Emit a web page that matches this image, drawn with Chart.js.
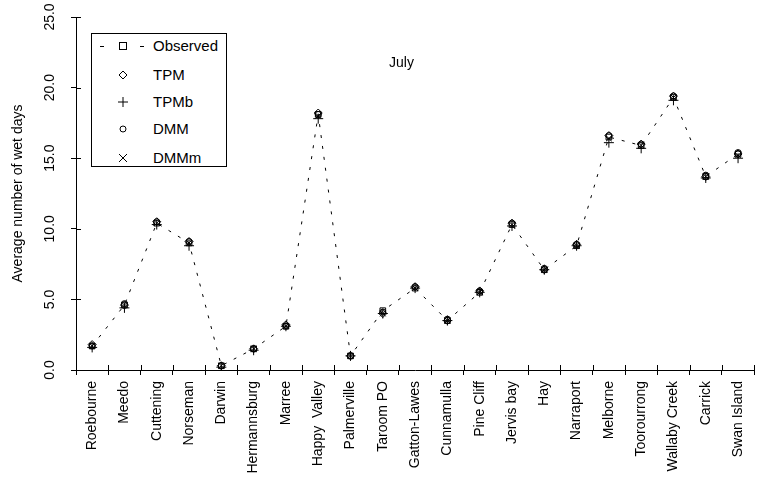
<!DOCTYPE html>
<html>
<head>
<meta charset="utf-8">
<script src="https://cdn.jsdelivr.net/npm/chart.js@4.4.1/dist/chart.umd.min.js"></script>
<style>
  html, body { margin: 0; padding: 0; background: #fff; }
  #wrap { position: relative; width: 761px; height: 500px; font-family: "Liberation Sans", Arial, sans-serif; }
  #cv { position: absolute; left: 0; top: 0; }
  #legend { position: absolute; left: 91px; top: 33px; width: 136px; height: 134px; border: 1px solid #000; background: #fff; box-sizing: border-box; }
  .lg-row { position: absolute; left: 0; height: 20px; width: 100%; font-size: 15px; color: #000; }
  .lg-row svg { position: absolute; left: 0; top: 0; }
  .lg-row span { position: absolute; left: 61px; top: 1px; }
  #month { position: absolute; left: 389px; top: 54px; font-size: 14px; color: #000; }
</style>
</head>
<body>
<div id="wrap">
  <canvas id="cv" width="761" height="500"></canvas>
  <div id="legend"></div>
  <div id="month">July</div>
</div>
<script>
// stations along the x axis
const stations = ['Roebourne', 'Meedo', 'Cuttening', 'Norseman', 'Darwin', 'Hermannsburg', 'Marree',
  'Happy  Valley', 'Palmerville', 'Taroom PO', 'Gatton-Lawes', 'Cunnamulla', 'Pine Cliff', 'Jervis bay',
  'Hay', 'Narraport', 'Melborne', 'Toorourrong', 'Wallaby Creek', 'Carrick', 'Swan Island'];

// average number of wet days in July
const observed = [1.7, 4.6, 10.4, 9.0, 0.3, 1.5, 3.1, 18.1, 1.0, 4.2, 5.8, 3.5, 5.5, 10.3, 7.1, 8.8, 16.5, 15.9, 19.3, 13.7, 15.3];
const tpm      = [1.8, 4.6, 10.5, 9.1, 0.3, 1.5, 3.2, 18.2, 1.0, 4.0, 5.9, 3.5, 5.6, 10.4, 7.1, 8.9, 16.6, 16.0, 19.4, 13.7, 15.3];
const tpmb     = [1.6, 4.4, 10.3, 8.8, 0.2, 1.4, 3.1, 17.8, 1.0, 4.0, 5.8, 3.5, 5.5, 10.2, 7.1, 8.8, 16.1, 15.7, 19.1, 13.6, 15.0];
const dmm      = [1.7, 4.7, 10.5, 9.1, 0.3, 1.5, 3.1, 18.1, 1.0, 4.1, 5.9, 3.6, 5.6, 10.4, 7.2, 8.9, 16.6, 16.0, 19.4, 13.8, 15.4];
const dmmm     = [1.7, 4.6, 10.4, 9.0, 0.3, 1.5, 3.1, 18.0, 1.0, 4.0, 5.8, 3.5, 5.5, 10.3, 7.1, 8.8, 16.4, 15.9, 19.3, 13.7, 15.2];

const yMin = 0, yMax = 25, yStep = 5;

const marker = (style, r) => ({
  pointStyle: style, pointRadius: r, pointHoverRadius: r,
  pointBorderColor: '#000', pointBackgroundColor: 'rgba(0,0,0,0)', pointBorderWidth: 1
});

const series = [
  { label: 'Observed', data: observed, style: 'rect', r: 4, line: true },
  { label: 'TPM', data: tpm, style: 'rectRot', r: 4 },
  { label: 'TPMb', data: tpmb, style: 'cross', r: 5 },
  { label: 'DMM', data: dmm, style: 'circle', r: 3 },
  { label: 'DMMm', data: dmmm, style: 'crossRot', r: 4 }
];

const datasets = series.map(s => Object.assign({
  label: s.label,
  data: s.data,
  showLine: !!s.line,
  borderColor: '#000',
  borderWidth: 1,
  borderDash: [3, 8],
  fill: false,
  tension: 0
}, marker(s.style, s.r)));

// html legend with the same marker shapes
const svgMarker = (style) => {
  const c = 'stroke="#000" stroke-width="1" fill="none"';
  if (style === 'rect') return `<line x1="8" y1="10.5" x2="12" y2="10.5" ${c}/><rect x="27.5" y="6.5" width="7" height="7" ${c}/><line x1="48" y1="10.5" x2="52" y2="10.5" ${c}/>`;
  if (style === 'rectRot') return `<polygon points="31,6 35,10 31,14 27,10" ${c}/>`;
  if (style === 'cross') return `<line x1="31" y1="5" x2="31" y2="15" ${c}/><line x1="26" y1="10" x2="36" y2="10" ${c}/>`;
  if (style === 'circle') return `<circle cx="31" cy="10" r="3" ${c}/>`;
  return `<line x1="27" y1="6" x2="35" y2="14" ${c}/><line x1="35" y1="6" x2="27" y2="14" ${c}/>`;
};
const lgTops = [2, 31, 58, 85, 114];
document.getElementById('legend').innerHTML = series.map((s, i) =>
  `<div class="lg-row" style="top:${lgTops[i]}px"><svg width="60" height="20">${svgMarker(s.style)}</svg><span>${s.label}</span></div>`
).join('');

// tick marks that cross the axis lines
const innerTicks = {
  id: 'innerTicks',
  afterDraw(chart) {
    const { ctx, scales: { x, y } } = chart;
    ctx.save();
    ctx.strokeStyle = '#000';
    ctx.lineWidth = 1;
    ctx.beginPath();
    y.ticks.forEach(t => {
      const py = Math.round(y.getPixelForValue(t.value)) + 0.5;
      ctx.moveTo(x.left, py); ctx.lineTo(x.left + 5, py);
    });
    for (let i = 0; i <= stations.length; i++) {
      const px = Math.round(x.getPixelForValue(i - 0.5)) + 0.5;
      ctx.moveTo(px, y.bottom); ctx.lineTo(px, y.bottom - 5);
    }
    ctx.stroke();
    ctx.restore();
  }
};

Chart.defaults.font.family = '"Liberation Sans", Arial, sans-serif';
Chart.defaults.font.size = 14;
Chart.defaults.color = '#000';

new Chart(document.getElementById('cv'), {
  type: 'line',
  data: { labels: stations, datasets: datasets },
  plugins: [innerTicks],
  options: {
    responsive: false,
    animation: false,
    events: [],
    layout: { padding: { top: 17, right: 1, left: 0, bottom: 0 } },
    plugins: { legend: { display: false }, tooltip: { enabled: false } },
    scales: {
      x: {
        offset: true,
        grid: { offset: true, drawOnChartArea: false, drawTicks: true, tickLength: 5, color: '#000' },
        border: { display: true, color: '#000', width: 1 },
        ticks: { minRotation: 90, maxRotation: 90, autoSkip: false, padding: 6, font: { size: 14 } },
        afterFit: (scale) => { scale.height = 130; }
      },
      y: {
        min: yMin, max: yMax,
        grid: { drawOnChartArea: false, drawTicks: true, tickLength: 5, color: '#000' },
        border: { display: true, color: '#000', width: 1 },
        ticks: {
          stepSize: yStep, minRotation: 90, maxRotation: 90, crossAlign: 'center', padding: 7,
          callback: (v) => v.toFixed(1)
        },
        title: { display: true, text: 'Average number of wet days', font: { size: 14 }, padding: { top: 10, bottom: 0 } },
        afterFit: (scale) => { scale.width = 76; }
      }
    }
  }
});
</script>
</body>
</html>
